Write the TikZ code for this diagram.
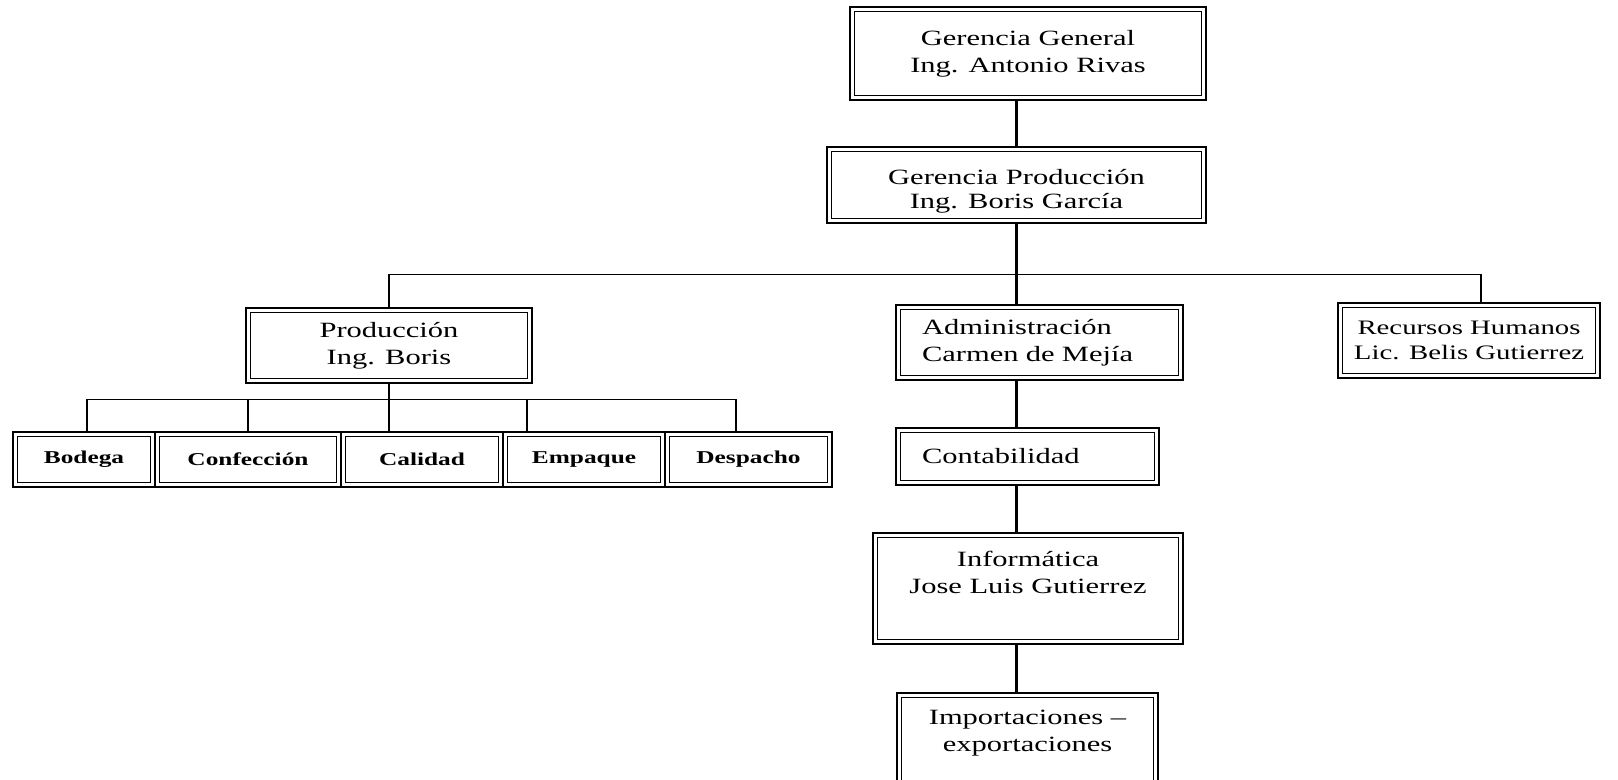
\documentclass[tikz,border=0pt]{standalone}
\usepackage{fontspec}
\setmainfont[FakeStretch=1.4]{Liberation Serif}

\begin{document}
\begin{tikzpicture}[x=0.02cm, y=-0.02cm,
  box/.style={draw, line width=1.6pt, align=center, inner sep=0pt,
    font=\fontsize{12.4}{15.4}\selectfont,
    path picture={\draw[line width=0.7pt]
      ([shift={(2.4pt,-2.4pt)}]path picture bounding box.north west) rectangle
      ([shift={(-2.4pt,2.4pt)}]path picture bounding box.south east);}},
  subbox/.style={box, font=\fontsize{10.3}{12}\selectfont\bfseries, minimum height=1.1cm},
  spine/.style={line width=2pt},
  link/.style={line width=1pt}]
  \useasboundingbox (0,0) rectangle (1618,780);
  \clip (0,0) rectangle (1618,780);

  \node[box, minimum width=7.12cm, minimum height=1.86cm] (gg) at (1028,53.5) {Gerencia General\\Ing. Antonio Rivas};
  \node[box, minimum width=7.58cm, minimum height=1.52cm, font=\fontsize{12.4}{13.5}\selectfont,
    text height=29.7pt, text depth=3.5pt] (gp) at (1016.5,185) {Gerencia Producción\\Ing. Boris García};

  \node[box, minimum width=5.72cm, minimum height=1.5cm] (prod) at (389,345.5) {Producción\\Ing. Boris};
  \node[box, minimum width=5.74cm, minimum height=1.5cm, text width=4.7cm, align=left] (adm) at (1039.5,342.5) {Administración\\Carmen de Mejía};
  \node[box, minimum width=5.24cm, minimum height=1.5cm, font=\fontsize{11.7}{14.5}\selectfont] (rrhh) at (1469,340.5) {Recursos Humanos\\Lic. Belis Gutierrez};

  % areas under Produccion
  \node[subbox, minimum width=2.84cm] (bod) at (84,459.5) {Bodega};
  \node[subbox, minimum width=3.72cm] (conf) at (248,459.5) {Confección};
  \node[subbox, minimum width=3.24cm] (cal) at (422,459.5) {Calidad};
  \node[subbox, minimum width=3.24cm] (emp) at (584,459.5) {Empaque};
  \node[subbox, minimum width=3.34cm] (desp) at (748.5,459.5) {Despacho};

  % column under Administracion
  \node[box, minimum width=5.26cm, minimum height=1.14cm, text width=4.22cm, align=left] (cont) at (1027.5,456.5) {Contabilidad};
  \node[box, minimum width=6.2cm, minimum height=2.22cm, text height=26pt, text depth=19.8pt] (inf) at (1028,588.5) {Informática\\Jose Luis Gutierrez};
  \node[box, minimum width=5.22cm, minimum height=2.14cm, text height=26pt, text depth=19.8pt] (imp) at (1027.5,746.5) {Importaciones –\\exportaciones};

  \draw[spine] (gg.south -| gp.north) -- (gp.north);
  \draw[spine] (gp.south) -- ++(0,50) coordinate (bar) -- (gp.south |- adm.north);
  \draw[link] (prod.north) |- (bar) -| ([xshift=0.24cm]rrhh.north);

  \draw[spine] (adm.south -| gp.south) -- (cont.north -| gp.south);
  \draw[spine] (cont.south -| gp.south) -- (inf.north -| gp.south);
  \draw[spine] (inf.south -| gp.south) -- (imp.north -| gp.south);

  \draw[link] (prod.south) -- ++(0,15) coordinate (sbar);
  \draw[link] ([xshift=0.06cm]bod.north) |- (sbar) -| ([xshift=-0.25cm]desp.north);
  \draw[link] (sbar -| conf.north) -- (conf.north);
  \draw[link] (sbar) -- (cal.north -| sbar);
  \draw[link] ([xshift=-1.14cm]emp.north) -- ([xshift=-1.14cm]emp.north |- sbar);
\end{tikzpicture}
\end{document}
